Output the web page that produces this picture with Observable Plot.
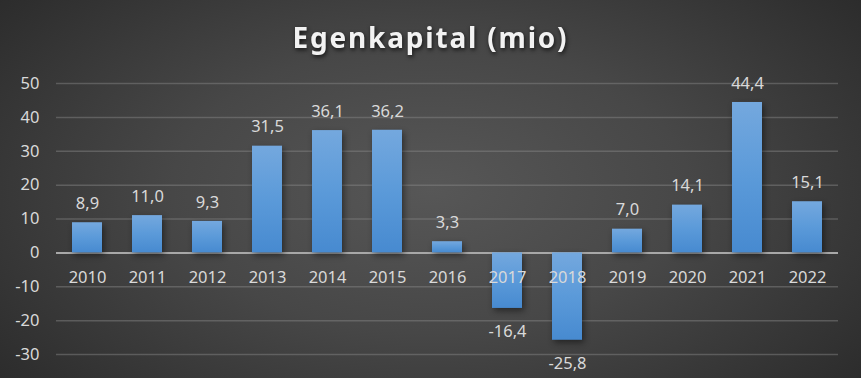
<!DOCTYPE html>
<html>
<head>
<meta charset="utf-8">
<script src="https://cdn.jsdelivr.net/npm/d3@7"></script>
<script src="https://cdn.jsdelivr.net/npm/@observablehq/plot@0.6"></script>
<style>
  html, body { margin: 0; padding: 0; background: #262626; }
  #chart {
    width: 861px; height: 378px; overflow: hidden;
    background: radial-gradient(ellipse 75% 95% at 50% 50%, #575757 0%, #474747 40%, #2f2f2f 80%, #242424 100%);
  }
  #chart svg { display: block; background: transparent; }
  #chart g[aria-label="bar"] { filter: drop-shadow(2px 3px 3px rgba(0,0,0,0.45)); }
  #chart text.title { letter-spacing: 1.8px; filter: drop-shadow(1px 2px 2px rgba(0,0,0,0.7)); }
</style>
</head>
<body>
<div id="chart"></div>
<script>
const title = "Egenkapital (mio)";
const years = ["2010","2011","2012","2013","2014","2015","2016","2017","2018","2019","2020","2021","2022"];
const values = [8.9, 11.0, 9.3, 31.5, 36.1, 36.2, 3.3, -16.4, -25.8, 7.0, 14.1, 44.4, 15.1];
const yTicks = [-30, -20, -10, 0, 10, 20, 30, 40, 50];

const data = years.map((year, i) => ({year, value: values[i]}));
const fmt = v => v.toFixed(1).replace(".", ",");
const font = "'Noto Sans', 'Open Sans', sans-serif";

const chart = Plot.plot({
  width: 861,
  height: 378,
  marginLeft: 56,
  marginRight: 23,
  marginTop: 83,
  marginBottom: 24,
  style: {background: "transparent", fontFamily: font, overflow: "visible"},
  x: {domain: years, paddingInner: 0.5, paddingOuter: 0.25, axis: null},
  y: {domain: [-30, 50], axis: null},
  marks: [
    () => {
      const ns = "http://www.w3.org/2000/svg";
      const defs = document.createElementNS(ns, "defs");
      defs.innerHTML = `
        <linearGradient id="barGrad" x1="0" y1="0" x2="0" y2="1">
          <stop offset="0" stop-color="#74a8de"/>
          <stop offset="0.5" stop-color="#5b9ad9"/>
          <stop offset="1" stop-color="#478ad0"/>
        </linearGradient>`;
      return defs;
    },
    Plot.ruleY(yTicks.filter(d => d !== 0), {stroke: "#8a8a8a", strokeOpacity: 0.45, strokeWidth: 1.5}),
    Plot.ruleY([0], {stroke: "#a8a8a8", strokeWidth: 2}),
    Plot.barY(data, {x: "year", y: "value", fill: "url(#barGrad)"}),
    Plot.text(yTicks, {x: null, y: d => d, text: d => String(d), frameAnchor: "left", textAnchor: "end",
      dx: -17, fill: "#d9d9d9", fontSize: 16.5}),
    Plot.text(data, {x: "year", y: () => 0, text: "year", dy: 25, fill: "#d9d9d9", fontSize: 16.5}),
    Plot.text(data.filter(d => d.value >= 0), {x: "year", y: "value", text: d => fmt(d.value), dy: -19,
      fill: "#d9d9d9", fontSize: 16.5}),
    Plot.text(data.filter(d => d.value < 0), {x: "year", y: "value", text: d => fmt(d.value), dy: 23,
      fill: "#d9d9d9", fontSize: 16.5}),
    Plot.text([title], {frameAnchor: "top", lineAnchor: "middle", dy: -44, dx: -17, fill: "#f2f2f2",
      fontSize: 28, fontWeight: "bold"})
  ]
});
d3.select(chart).selectAll("text").filter(function() { return this.textContent === title; })
  .classed("title", true);
document.getElementById("chart").appendChild(chart);
</script>
</body>
</html>
